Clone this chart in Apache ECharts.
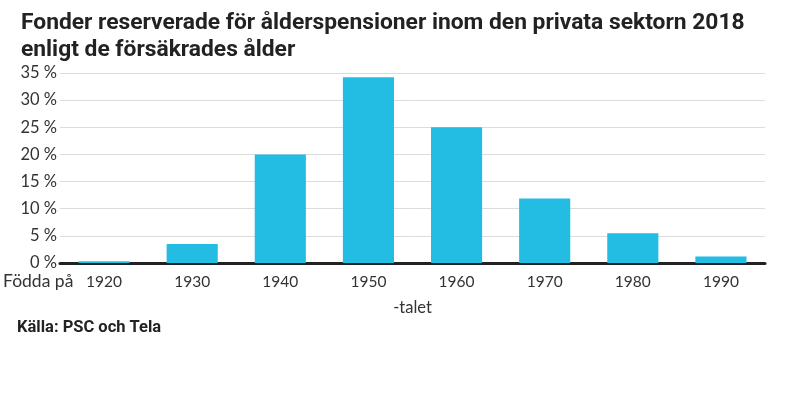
<!DOCTYPE html>
<html><head><meta charset="utf-8">
<script src="https://cdn.jsdelivr.net/npm/echarts@6/dist/echarts.min.js"></script>
<style>html,body{margin:0;padding:0;background:#fff}#c{width:790px;height:396px}</style>
</head><body><div id="c"></div>
<script>
const categories = ['1920','1930','1940','1950','1960','1970','1980','1990'];
const values = [0.3, 3.5, 20.0, 34.2, 25.0, 11.9, 5.5, 1.2];
const yTicks = [0, 5, 10, 15, 20, 25, 30, 35];

const chart = echarts.init(document.getElementById('c'), null, {renderer:'canvas'});
chart.setOption({
  animation: false,
  title: {
    text: 'Fonder reserverade för ålderspensioner inom den privata sektorn 2018\nenligt de försäkrades ålder',
    left: 16, top: 5,
    textStyle: {fontFamily: 'Roboto', fontWeight: 'bold', fontSize: 22.8, lineHeight: 27, color: '#222'}
  },
  grid: {left: 60, right: 25, top: 73, bottom: 133},
  xAxis: {
    type: 'category', data: categories,
    name: '-talet', nameLocation: 'middle', nameGap: 36,
    nameTextStyle: {fontFamily: 'Lato', fontSize: 16.5, color: '#333'},
    axisLine: {lineStyle: {color: '#222', width: 3}},
    axisTick: {show: false},
    axisLabel: {fontFamily: 'Lato', fontSize: 15.5, color: '#333', margin: 11}
  },
  yAxis: {
    type: 'value', min: 0, max: 35, interval: 5,
    axisLine: {show: false}, axisTick: {show: false},
    splitLine: {lineStyle: {color: '#dcdcdc', width: 1}},
    axisLabel: {fontFamily: 'Lato', fontSize: 16.5, color: '#333', margin: 3,
      formatter: v => yTicks.includes(v) ? v + ' %' : ''}
  },
  graphic: [
    {type: 'text', left: 3, top: 272, style: {text: 'Födda på', fontFamily: 'Lato', fontSize: 17.5, fill: '#333'}},
    {type: 'text', left: 17, top: 319, style: {text: 'Källa: PSC och Tela', fontFamily: 'Roboto', fontWeight: 'bold', fontSize: 16.5, fill: '#222'}}
  ],
  series: [{
    type: 'bar', data: values, barCategoryGap: '42%',
    itemStyle: {color: '#23bce3'}
  }]
});
</script></body></html>
